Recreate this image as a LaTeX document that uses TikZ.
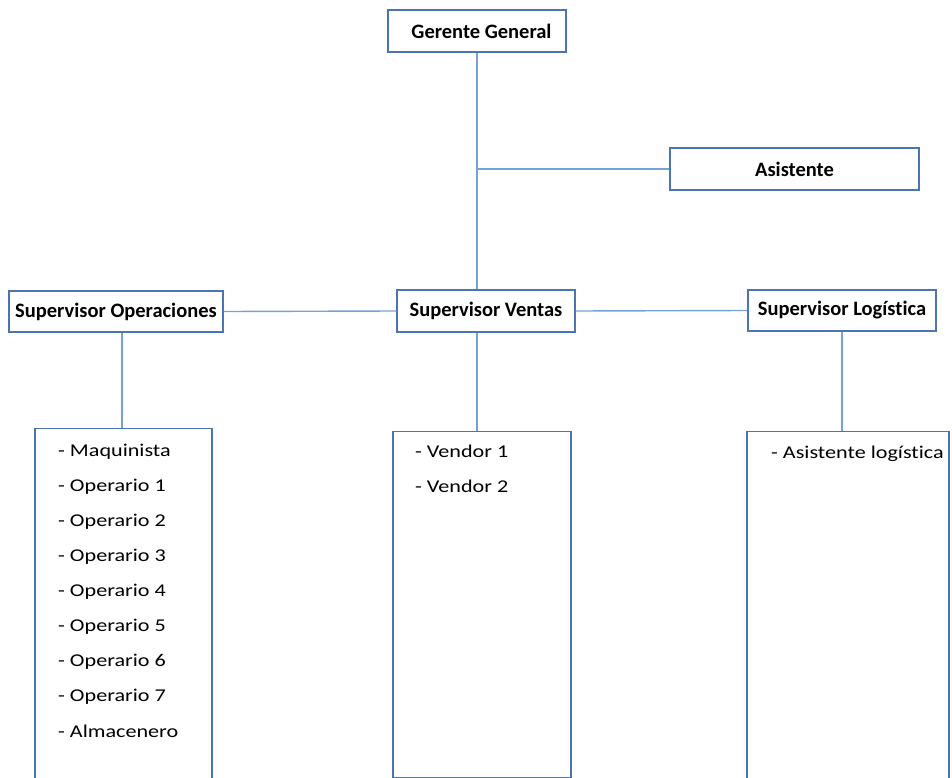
\documentclass[tikz,border=0pt]{standalone}
\usepackage{fontspec}
\setmainfont[Ligatures={NoCommon,NoRare},RawFeature={-calt}]{Carlito}
\newfontfamily\itemfont[FakeStretch=1.23,Ligatures={NoCommon,NoRare},RawFeature={-calt}]{Carlito}
\definecolor{boxblue}{RGB}{74,116,178}
\definecolor{lineblue}{RGB}{120,162,214}
\tikzset{
  head/.style={draw=boxblue, line width=1.3pt, fill=white, font=\bfseries\fontsize{20.5}{24}\selectfont, inner sep=0pt, anchor=center},
  listbox/.style={draw=boxblue, line width=1.3pt, anchor=north, inner sep=0pt},
  item/.style={anchor=west, inner sep=0pt, yshift=-1.5pt, font=\itemfont\fontsize{18}{21}\selectfont},
  conn/.style={draw=lineblue, line width=1.4pt}
}
\begin{document}
\begin{tikzpicture}[x=1pt,y=-1pt]
\useasboundingbox (0,0) rectangle (952,778);
\clip (0,0) rectangle (952,778);
% header boxes
\node[head, minimum width=178pt, minimum height=42pt] (gg) at (477,31) {\hspace*{9pt}Gerente General};
\node[head, minimum width=249pt, minimum height=42pt] (as) at (794.5,169) {Asistente};
\node[head, minimum width=214pt, minimum height=41pt] (so) at (116,311.5) {Supervisor Operaciones};
\node[head, minimum width=178pt, minimum height=42pt] (sv) at (486,311) {Supervisor Ventas};
\node[head, minimum width=188pt, minimum height=41pt] (sl) at (842,310.5) {Supervisor Logíst\kern0pt ica};
% list boxes
\node[listbox, minimum width=177pt, minimum height=362pt] (bl) at (123.5,428) {};
\node[listbox, minimum width=178pt, minimum height=346pt] (bm) at (482,431) {};
\node[listbox, minimum width=202pt, minimum height=362pt] (br) at (848,431) {};
% connectors
\coordinate (jt) at (gg.south |- sv.north);
\coordinate (ja) at (gg.south |- as.west);
\coordinate (jm1) at (gg.south |- sv.south);
\coordinate (jm2) at (gg.south |- bm.north);
\coordinate (jl1) at (122,0 |- so.south);
\coordinate (jl2) at (122,0 |- bl.north);
\coordinate (jr2) at (sl.south |- br.north);
\draw[conn] (gg.south) -- (jt);
\draw[conn] (ja) -- (as.west);
\draw[conn] (so.east) -- (sv.west);
\draw[conn] (sv.east) -- (sl.west);
\draw[conn] (jl1) -- (jl2);
\draw[conn] (jm1) -- (jm2);
\draw[conn] (sl.south) -- (jr2);
% list items
\node[item] (l1) at (58,450) {- Maquinista};
\node[item] (l2) at (58,485) {- Operario 1};
\node[item] (l3) at (58,520) {- Operario 2};
\node[item] (l4) at (58,555) {- Operario 3};
\node[item] (l5) at (58,590) {- Operario 4};
\node[item] (l6) at (58,625) {- Operario 5};
\node[item] (l7) at (58,660) {- Operario 6};
\node[item] (l8) at (58,695) {- Operario 7};
\node[item] (l9) at (58,730) {- Almacenero};
\node[item] (m1) at (415,450) {- Vendor 1};
\node[item] (m2) at (415,485) {- Vendor 2};
\node[item] (r1) at (771,452) {- Asistente logíst\kern0pt ica};
\end{tikzpicture}
\end{document}
